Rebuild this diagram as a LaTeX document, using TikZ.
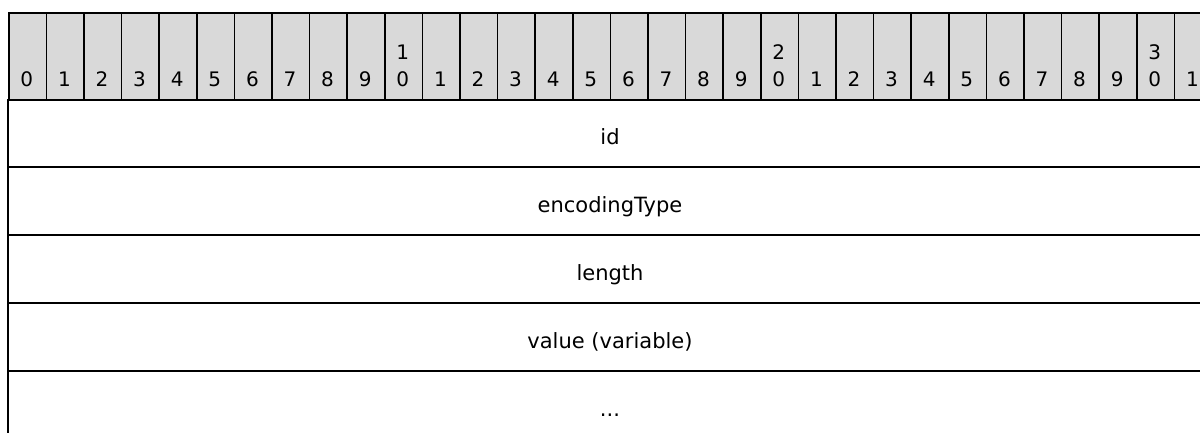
\documentclass[tikz,border=0pt]{standalone}
\usepackage{fontspec}
\setmainfont{DejaVu Sans}
\usepackage{tikz}
\usetikzlibrary{calc}
\definecolor{headgrey}{RGB}{217,217,217}

\begin{document}
\begin{tikzpicture}[x = 0.5pt, y = -0.5pt, line width = 0.8pt,
    headcell/.style = {draw = black, fill = headgrey, line width = 0.8pt, inner sep = 0pt,
        minimum width = 18.8pt, minimum height = 43.5pt, anchor = north west},
    bitnum/.style = {font = \fontsize{10}{12}\selectfont, inner sep = 0pt, anchor = base},
    fieldname/.style = {font = \fontsize{10.5}{12.6}\selectfont, inner sep = 0pt, anchor = base}]

    \useasboundingbox (0,0) rectangle (1200,433);
    \clip (0,0) rectangle (1200,433);

    \foreach \i in {0,...,31} {
        \pgfmathsetmacro\colX{8+37.6*\i}
        \pgfmathtruncatemacro\ones{mod(\i,10)}
        \pgfmathtruncatemacro\tens{\i/10}
        \node[headcell] (h\i) at (\colX,12) {};
        \node[bitnum] (d\i) at (\colX+18.8,87) {\ones};
        \ifnum\ones=0 \ifnum\i>0
            \node[bitnum] (t\i) at (\colX+18.8,60) {\tens};
        \fi\fi
    }

    \draw[black] (8,99) -- (8,440);
    \draw[black] (8,167) -- (1212,167);
    \draw[black] (8,235) -- (1212,235);
    \draw[black] (8,303) -- (1212,303);
    \draw[black] (8,371) -- (1212,371);

    \node[fieldname] (id) at (610,144.5) {id};
    \node[fieldname] (encodingType) at (610,212.5) {encodingType};
    \node[fieldname] (length) at (610,280.5) {length};
    \node[fieldname] (value) at (610,348.5) {value (variable)};
    \node[fieldname] (more) at (610,416.5) {...};
\end{tikzpicture}
\end{document}
